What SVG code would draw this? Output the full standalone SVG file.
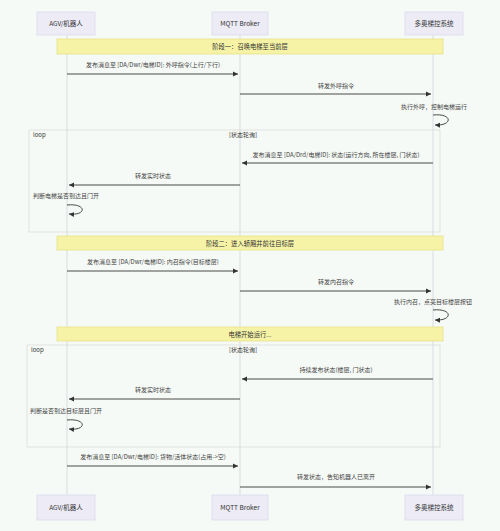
<svg xmlns="http://www.w3.org/2000/svg" width="500" height="531" viewBox="0 0 500 531">
<style>
text{font-family:"Noto Sans CJK SC","Liberation Sans",sans-serif;fill:#333}
.actor rect{fill:#ecebf6;stroke:#dcdaee;stroke-width:0.8}
.actor text{font-size:6.5px;text-anchor:middle}
.life{stroke:#d4d4dc;stroke-width:0.8}
.note rect{fill:#f6f3a6;stroke:#e6e08a;stroke-width:0.8}
.note text{font-size:6.3px;text-anchor:middle}
.frame{fill:none;stroke:#dcdcdc;stroke-width:0.8}
.flab{font-size:6px}
.msg{stroke:#4a4a4a;stroke-width:1;fill:none}
.mt{font-size:6px;text-anchor:middle;fill:#444}
.st{font-size:6px;fill:#444}
</style>
<defs>
<marker id="ah" markerWidth="6" markerHeight="6" refX="5" refY="3" orient="auto" markerUnits="userSpaceOnUse"><path d="M0,0.5 L5,3 L0,5.5 z" fill="#333"/></marker>
</defs>
<rect width="500" height="531" fill="#f6faf6"/>
<g id="lifelines">
<line class="life" x1="67" y1="35" x2="67" y2="495"/>
<line class="life" x1="240" y1="35" x2="240" y2="495"/>
<line class="life" x1="433" y1="35" x2="433" y2="495"/>
</g>
<g id="frames">
<rect class="frame" x="29" y="130" width="411" height="102"/>
<text class="flab" x="33" y="137">loop</text>
<text class="flab" x="243" y="137" text-anchor="middle">[状态轮询]</text>
<rect class="frame" x="27" y="345" width="413" height="102"/>
<text class="flab" x="31" y="352">loop</text>
<text class="flab" x="243" y="352" text-anchor="middle">[状态轮询]</text>
</g>
<g id="note1" class="note"><rect x="57" y="39" width="386" height="15"/><text x="250" y="49">阶段一：召唤电梯至当前层</text></g>
<g id="note2" class="note"><rect x="57" y="236" width="386" height="14"/><text x="250" y="245.5">阶段二：进入轿厢并前往目标层</text></g>
<g id="note3" class="note"><rect x="57" y="327" width="386" height="14"/><text x="250" y="336.5">电梯开始运行...</text></g>
<g id="connectors">
<line class="msg" x1="67" y1="74" x2="238" y2="74" marker-end="url(#ah)"/>
<text class="mt" x="153" y="67">发布消息至 [DA/Dwr/电梯ID]: 外呼指令(上行/下行)</text>
<line class="msg" x1="240" y1="94" x2="431" y2="94" marker-end="url(#ah)"/>
<text class="mt" x="336" y="88">转发外呼指令</text>
<text class="st" x="401" y="109">执行外呼，控制电梯运行</text>
<path class="msg" d="M433,115 C453,113 453,126 435,125" marker-end="url(#ah)"/>

<line class="msg" x1="433" y1="163" x2="242" y2="163" marker-end="url(#ah)"/>
<text class="mt" x="336" y="157">发布消息至 [DA/Drd/电梯ID]: 状态(运行方向, 所在楼层, 门状态)</text>
<line class="msg" x1="240" y1="185" x2="69" y2="185" marker-end="url(#ah)"/>
<text class="mt" x="153" y="178">转发实时状态</text>
<text class="st" x="33" y="198">判断电梯是否到达且门开</text>
<path class="msg" d="M67,205 C87,203 87,216 69,214" marker-end="url(#ah)"/>

<line class="msg" x1="67" y1="271" x2="238" y2="271" marker-end="url(#ah)"/>
<text class="mt" x="153" y="264">发布消息至 [DA/Dwr/电梯ID]: 内召指令(目标楼层)</text>
<line class="msg" x1="240" y1="291" x2="431" y2="291" marker-end="url(#ah)"/>
<text class="mt" x="336" y="284">转发内召指令</text>
<text class="st" x="394" y="304">执行内召，点亮目标楼层按钮</text>
<path class="msg" d="M433,310 C453,308 453,321 435,320" marker-end="url(#ah)"/>

<line class="msg" x1="433" y1="379" x2="242" y2="379" marker-end="url(#ah)"/>
<text class="mt" x="336" y="372">持续发布状态(楼层, 门状态)</text>
<line class="msg" x1="240" y1="399" x2="69" y2="399" marker-end="url(#ah)"/>
<text class="mt" x="153" y="392">转发实时状态</text>
<text class="st" x="30" y="413">判断是否到达目标层且门开</text>
<path class="msg" d="M67,420 C87,418 87,431 69,429" marker-end="url(#ah)"/>

<line class="msg" x1="67" y1="466" x2="238" y2="466" marker-end="url(#ah)"/>
<text class="mt" x="153" y="459">发布消息至 [DA/Dwr/电梯ID]: 货物/活体状态(占用-&gt;空)</text>
<line class="msg" x1="240" y1="487" x2="431" y2="487" marker-end="url(#ah)"/>
<text class="mt" x="336" y="479">转发状态，告知机器人已离开</text>
</g>
<g id="agv-top" class="actor"><rect x="37" y="12" width="58" height="23"/><text x="66" y="26">AGV/机器人</text></g>
<g id="mqtt-top" class="actor"><rect x="212" y="12" width="56" height="23"/><text x="240" y="26">MQTT Broker</text></g>
<g id="elev-top" class="actor"><rect x="405" y="12" width="58" height="23"/><text x="434" y="26">多奥梯控系统</text></g>
<g id="agv-bot" class="actor"><rect x="37" y="495" width="58" height="25"/><text x="66" y="510">AGV/机器人</text></g>
<g id="mqtt-bot" class="actor"><rect x="212" y="495" width="56" height="25"/><text x="240" y="510">MQTT Broker</text></g>
<g id="elev-bot" class="actor"><rect x="405" y="495" width="58" height="25"/><text x="434" y="510">多奥梯控系统</text></g>
</svg>
